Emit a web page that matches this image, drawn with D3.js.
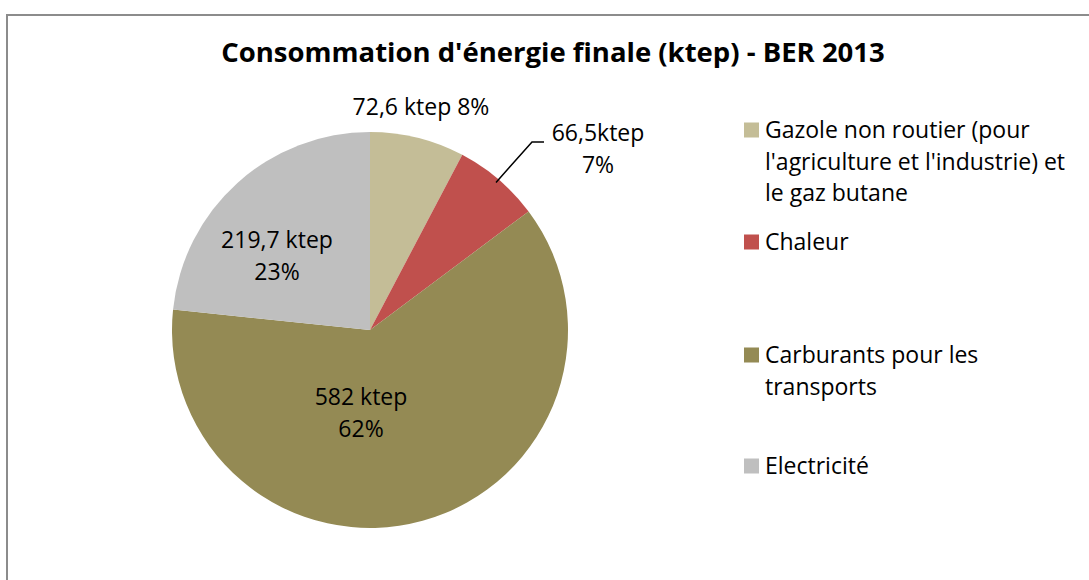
<!DOCTYPE html>
<html>
<head>
<meta charset="utf-8">
<script src="https://cdn.jsdelivr.net/npm/d3@7"></script>
<style>
  body { margin: 0; background: #fff; }
  svg { display: block; }
  text { font-family: "Open Sans", sans-serif; fill: #000; }
</style>
</head>
<body>
<svg width="1089" height="580"></svg>
<script>
// data
var categories = [
  "Gazole non routier (pour l'agriculture et l'industrie) et le gaz butane",
  "Chaleur",
  "Carburants pour les transports",
  "Electricité"
];
var values = [72.6, 66.5, 582, 219.7];
var labelLines = [
  ["72,6 ktep 8%"],
  ["66,5ktep", "7%"],
  ["582 ktep", "62%"],
  ["219,7 ktep", "23%"]
];
var legendLines = [
  ["Gazole non routier (pour", "l'agriculture et l'industrie) et", "le gaz butane"],
  ["Chaleur"],
  ["Carburants pour les", "transports"],
  ["Electricité"]
];
var colors = ["#C4BD97", "#C0504D", "#948A54", "#BFBFBF"];

var svg = d3.select("svg");

// chart frame (runs off the right and bottom of the view)
svg.append("rect")
  .attr("x", 7).attr("y", 15)
  .attr("width", 1100).attr("height", 600)
  .attr("fill", "none")
  .attr("stroke", "#8c8c8c")
  .attr("stroke-width", 2);

svg.append("text")
  .attr("x", 553).attr("y", 52)
  .attr("dy", "0.35em")
  .attr("text-anchor", "middle")
  .style("font-size", "27.5px")
  .style("font-weight", "bold")
  .text("Consommation d'énergie finale (ktep) - BER 2013");

var cx = 370, cy = 330, r = 198;

var pie = d3.pie().sort(null).value(function (d) { return d; });
var arcs = pie(values);
var arc = d3.arc().innerRadius(0).outerRadius(r);

var g = svg.append("g").attr("transform", "translate(" + cx + "," + cy + ")");

g.selectAll("path")
  .data(arcs)
  .enter().append("path")
  .attr("d", arc)
  .attr("fill", function (d, i) { return colors[i]; });

// data labels, positions as Excel placed them
var labelPos = [
  { x: 421, y: 107 },
  { x: 598, y: 133 },
  { x: 361, y: 397 },
  { x: 277, y: 240 }
];
var lineH = 32;

labelLines.forEach(function (lines, i) {
  var p = labelPos[i];
  var t = svg.append("text")
    .attr("text-anchor", "middle")
    .style("font-size", "23px");
  lines.forEach(function (s, k) {
    t.append("tspan")
      .attr("x", p.x)
      .attr("y", p.y + k * lineH)
      .attr("dy", "0.35em")
      .text(s);
  });
});

// leader line for the Chaleur label
var mid = (arcs[1].startAngle + arcs[1].endAngle) / 2;
var edge = [cx + Math.sin(mid) * (r - 4), cy - Math.cos(mid) * (r - 4)];
svg.append("polyline")
  .attr("points", [edge, [532, 142], [544, 142]].map(function (p) { return p.join(","); }).join(" "))
  .attr("fill", "none")
  .attr("stroke", "#000")
  .attr("stroke-width", 1.5);

// legend
var legendY = [130, 242, 355, 466];
var legend = svg.append("g");
legendLines.forEach(function (lines, i) {
  legend.append("rect")
    .attr("x", 744).attr("y", legendY[i] - 7.5)
    .attr("width", 15).attr("height", 15)
    .attr("fill", colors[i]);
  var t = legend.append("text").style("font-size", "23px");
  lines.forEach(function (s, k) {
    t.append("tspan")
      .attr("x", 765)
      .attr("y", legendY[i] + k * 31.5)
      .attr("dy", "0.35em")
      .text(s);
  });
});
</script>
</body>
</html>
